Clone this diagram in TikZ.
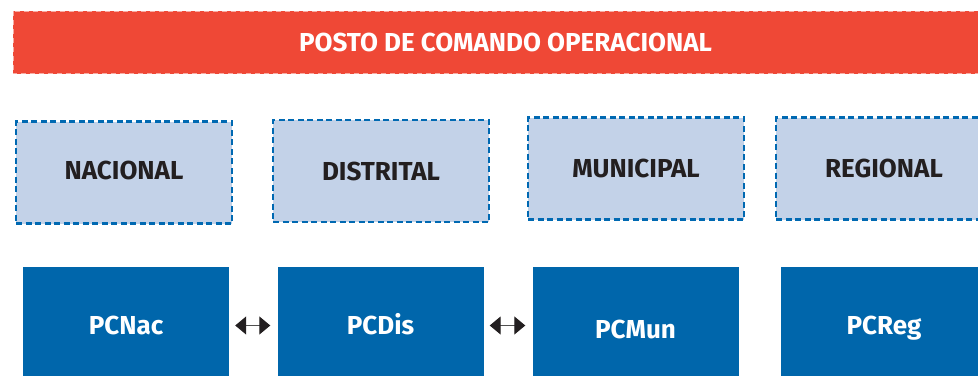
\documentclass[tikz,border=0pt]{standalone}
\usepackage{fontspec}
\setmainfont{Fira Sans}[UprightFont=* Bold]
\usetikzlibrary{arrows.meta}
\definecolor{barred}{HTML}{EF4836}
\definecolor{lightblue}{HTML}{C3D2E8}
\definecolor{dashblue}{HTML}{0069B2}
\definecolor{darkblue}{HTML}{0066AB}
\definecolor{inkdark}{HTML}{231F20}
\definecolor{shaftgray}{HTML}{505050}
\tikzset{
  levelbox/.style={draw=dashblue, fill=lightblue, line width=2.4pt,
    dash pattern=on 6pt off 3.5pt, minimum width=216pt, minimum height=102pt,
    inner sep=0pt, text=inkdark, font=\fontsize{26}{26}\selectfont,
    text height=18pt, text depth=0pt},
  pcbox/.style={fill=darkblue, minimum width=206pt, minimum height=109pt,
    inner sep=0pt, text=white, font=\fontsize{26}{26}\selectfont,
    text height=25pt, text depth=0pt},
  linkarrow/.style={{Triangle[width=18pt,length=11pt,color=inkdark,fill=inkdark]}-{Triangle[width=18pt,length=11pt,color=inkdark,fill=inkdark]},
    line width=1.2pt, draw=shaftgray, shorten <=6pt, shorten >=7pt}
}
\begin{document}
\begin{tikzpicture}[x=1pt,y=-1pt]
\useasboundingbox (0,0) rectangle (978,376);
% top bar
\node[fill=barred, minimum width=966pt, minimum height=63pt, inner sep=0pt] (bar) at (496,42.5) {};
\draw[white, opacity=0.55, line width=1.6pt, dash pattern=on 5pt off 4pt]
  (bar.north west) rectangle (bar.south east);
\node[text=white, font=\fontsize{26}{26}\selectfont, inner sep=0pt,
  text height=18pt, text depth=0pt] (title) at (505.5,42.5) {POSTO DE COMANDO OPERACIONAL};
% level boxes
\node[levelbox, text height=14pt] (nac) at (124,172.5) {NACIONAL};
\node[levelbox] (dis) at (381,171) {DISTRITAL};
\node[levelbox] (mun) at (636,168.5) {MUNICIPAL};
\node[levelbox] (reg) at (884,168.5) {REGIONAL};
% PC boxes
\node[pcbox] (pcnac) at (126,321.5) {PCNac};
\node[pcbox] (pcdis) at (380.5,321.5) {PCDis};
\node[pcbox, text height=33pt] (pcmun) at (635.5,321.5) {PCMun};
\node[pcbox] (pcreg) at (884,321.5) {PCReg};
% arrows
\draw[linkarrow] ([yshift=-4pt]pcnac.east) -- ([yshift=-4pt]pcdis.west);
\draw[linkarrow] ([yshift=-4pt]pcdis.east) -- ([yshift=-4pt]pcmun.west);
\end{tikzpicture}
\end{document}
